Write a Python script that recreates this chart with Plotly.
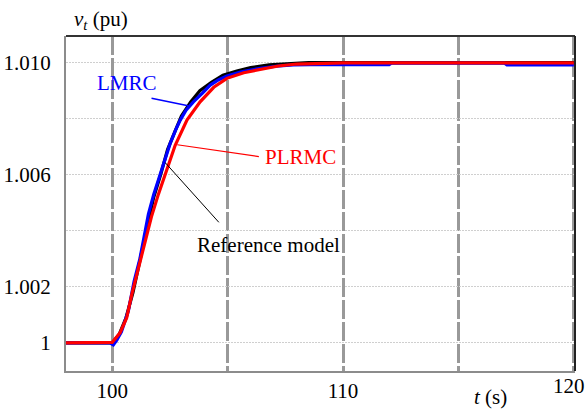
import plotly.graph_objects as go

# ---- data ----
t_ref = [98, 100, 100.3, 100.6, 100.9, 101.2, 101.5, 101.8, 102.1, 102.4, 102.7, 103.0,
         103.4, 103.8, 104.3, 104.8, 105.4, 106.0, 106.8, 107.6, 108.5, 110, 114, 120]
v_ref = [1.0000, 1.0000, 1.0003, 1.0009, 1.0018, 1.0029, 1.0041, 1.0052, 1.0060, 1.0069,
         1.0075, 1.0081, 1.0086, 1.0090, 1.0093, 1.00955, 1.0097, 1.00982, 1.00992,
         1.00997, 1.0100, 1.0100, 1.0100, 1.0100]

t_lmrc = [98, 99.9, 100.05, 100.2, 100.4, 100.7, 100.95, 101.2, 101.35, 101.57, 101.8,
          102.08, 102.3, 102.51, 102.75, 102.95, 103.2, 103.52, 103.9, 104.25, 104.6,
          104.97, 105.6, 106.42, 107.1, 107.85, 108.6, 110, 112, 112.1, 117, 117.1, 120]
v_lmrc = [1.0000, 1.0000, 0.99993, 1.0001, 1.0004, 1.00114, 1.0022, 1.0030, 1.00364,
          1.0046, 1.0053, 1.00604, 1.0066, 1.00711, 1.0076, 1.00795, 1.0083, 1.0086,
          1.0089, 1.0092, 1.00938, 1.00952, 1.00967, 1.0098, 1.00987, 1.00992, 1.00993,
          1.00993, 1.00993, 1.00998, 1.00998, 1.00992, 1.00992]

t_plrmc = [98, 99.8, 100.0, 100.34, 100.63, 100.85, 101.0, 101.2, 101.43, 101.7, 102.0,
           102.3, 102.73, 103.24, 103.81, 104.4, 104.97, 105.7, 106.42, 107.2, 108, 109,
           110, 120]
v_plrmc = [1.0000, 1.0000, 1.00002, 1.00036, 1.0009, 1.00173, 1.00221, 1.0029, 1.00364,
           1.0045, 1.0053, 1.00604, 1.00705, 1.00795, 1.0086, 1.00912, 1.00944, 1.00964,
           1.00976, 1.00988, 1.00995, 1.00998, 1.00999, 1.00999]

x_tickvals = [100, 110]
x_tick_last = [120]
y_tickvals = [1.000, 1.002, 1.006, 1.010]
y_ticktext = ["1", "1.002", "1.006", "1.010"]

FONT = "Liberation Serif"

fig = go.Figure()
fig.add_trace(go.Scatter(x=t_ref, y=v_ref, mode="lines", name="Reference model",
                         line=dict(color="black", width=3.2)))
fig.add_trace(go.Scatter(x=t_lmrc, y=v_lmrc, mode="lines", name="LMRC",
                         line=dict(color="#0000ff", width=3.2)))
fig.add_trace(go.Scatter(x=t_plrmc, y=v_plrmc, mode="lines", name="PLRMC",
                         line=dict(color="#ff0000", width=3.2)))

# labels with leader lines
def leader(x0, y0, x1, y1, color, width):
    fig.add_annotation(x=x1, y=y1, ax=x0, ay=y0, xref="x", yref="y", axref="x", ayref="y",
                       text="", showarrow=True, arrowhead=0, arrowwidth=width,
                       arrowcolor=color)

leader(101.64, 1.00874, 103.29, 1.00846, "#0000ff", 1.5)
leader(106.42, 1.00664, 102.82, 1.00707, "#ff0000", 1.2)
leader(104.68, 1.00425, 102.30, 1.00643, "black", 1)

fig.add_annotation(x=100.65, y=1.00928, text="LMRC", showarrow=False,
                   font=dict(color="#0000ff", size=21, family=FONT))
fig.add_annotation(x=106.52, y=1.00664, text="PLRMC", showarrow=False, xanchor="left",
                   font=dict(color="#ff0000", size=21, family=FONT))
fig.add_annotation(x=106.76, y=1.00348, text="Reference model", showarrow=False,
                   font=dict(color="black", size=21, family=FONT))

# axis titles
fig.add_annotation(xref="paper", yref="paper", x=(72 - 66) / 509, y=1 + (36 - 20) / 335,
                   xanchor="left", yanchor="middle", showarrow=False,
                   text="<i>v</i><sub><i>t</i></sub> (pu)",
                   font=dict(color="black", size=21, family=FONT))
fig.add_annotation(xref="paper", yref="paper", x=(490 - 66) / 509, y=-(397 - 371) / 335,
                   xanchor="center", yanchor="middle", showarrow=False,
                   text="<i>t</i> (s)", font=dict(color="black", size=21, family=FONT))

fig.update_layout(
    width=588, height=410,
    margin=dict(l=66, r=13, t=36, b=39),
    paper_bgcolor="white", plot_bgcolor="white",
    showlegend=False,
    font=dict(family=FONT, size=21, color="black"),
    xaxis=dict(range=[98, 120.05], tickvals=x_tickvals, ticks="", showline=True,
               linecolor="#8c8c8c", linewidth=2, mirror=False,
               showgrid=True, gridcolor="#999999", gridwidth=2.5, griddash="19px,3px",
               minor=dict(dtick=5, tick0=100, showgrid=True, gridcolor="#999999",
                          gridwidth=2.5, griddash="19px,3px", ticks=""),
               zeroline=False, automargin=False, ticklabelstandoff=0,
               tickfont=dict(size=21, family=FONT, color="black")),
    xaxis2=dict(range=[98, 120.05], overlaying="x", side="bottom", anchor="y",
                tickvals=x_tick_last, ticks="", showline=False, showgrid=False,
                zeroline=False, automargin=False, ticklabelstandoff=0,
                ticklabeloverflow="allow", ticklabelshift=-5,
                tickfont=dict(size=21, family=FONT, color="black")),
    yaxis=dict(range=[0.999, 1.01095], tickvals=y_tickvals, ticktext=y_ticktext,
               ticks="", showline=True, linecolor="#8c8c8c", linewidth=2,
               showgrid=False,
               minor=dict(dtick=0.002, tick0=1.0, showgrid=True, gridcolor="#cfcfcf",
                          gridwidth=1, griddash="2px,1px", ticks=""),
               zeroline=False, automargin=False, ticklabelstandoff=9,
               tickfont=dict(size=21, family=FONT, color="black")),
)

# top and right frame lines
fig.add_shape(type="line", xref="paper", yref="paper", x0=0, x1=1, y0=1, y1=1,
              line=dict(color="#333333", width=2))
fig.add_shape(type="line", xref="paper", yref="paper", x0=1, x1=1, y0=0, y1=1,
              line=dict(color="#222222", width=2))

# invisible trace to activate xaxis2
fig.add_trace(go.Scatter(x=[98], y=[1.0], xaxis="x2", mode="markers",
                         marker=dict(opacity=0), hoverinfo="skip", showlegend=False))

fig.write_html("out.html", config={"displayModeBar": False},
               post_script="document.body.style.margin='0';document.body.style.overflow='hidden';")
